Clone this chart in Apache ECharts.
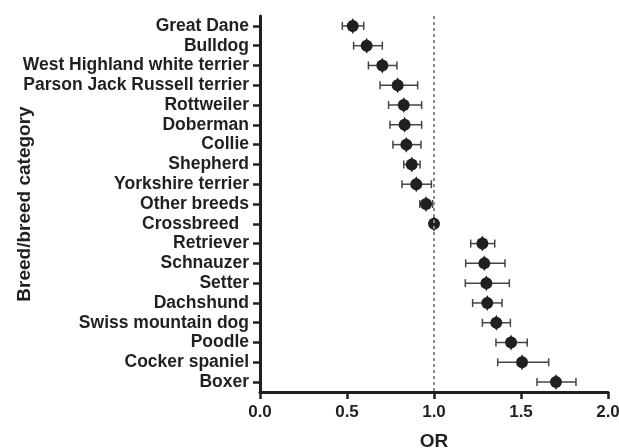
<!DOCTYPE html>
<html><head><meta charset="utf-8">
<script src="https://cdn.jsdelivr.net/npm/echarts@6/dist/echarts.min.js"></script>
<style>html,body{margin:0;padding:0;background:#fff}#c{width:619px;height:448px}</style>
</head><body><div id="c"></div>
<script>
const categories = ["Great Dane","Bulldog","West Highland white terrier","Parson Jack Russell terrier","Rottweiler","Doberman","Collie","Shepherd","Yorkshire terrier","Other breeds","Crossbreed  ","Retriever","Schnauzer","Setter","Dachshund","Swiss mountain dog","Poodle","Cocker spaniel","Boxer"];
const orValues = [0.533,0.613,0.703,0.791,0.826,0.831,0.841,0.872,0.898,0.954,1.0,1.278,1.289,1.301,1.306,1.358,1.443,1.506,1.701];
const ciLow  = [0.473,0.538,0.623,0.690,0.739,0.747,0.764,0.826,0.816,0.918,null,1.211,1.182,1.180,1.222,1.278,1.356,1.366,1.592];
const ciHigh = [0.596,0.703,0.787,0.906,0.929,0.929,0.925,0.920,0.985,0.992,null,1.349,1.408,1.433,1.391,1.439,1.536,1.659,1.816];
const xTicks = [0.0,0.5,1.0,1.5,2.0];
const refLine = 1.0;

const ink = '#231f20';
const font = {fontFamily:'Liberation Sans, Arial, sans-serif', fontWeight:'bold', color:ink};
const chart = echarts.init(document.getElementById('c'), null, {renderer:'canvas'});
const errData = categories.map((c,i)=> ciLow[i]==null ? null : [i, ciLow[i], ciHigh[i]]).filter(d=>d);
const ptData = categories.map((c,i)=>[orValues[i], c]);
chart.setOption({
  animation:false,
  grid:{left:260,right:11,top:16,bottom:56,containLabel:false,outerBoundsMode:'none'},
  xAxis:{type:'value',min:xTicks[0],max:xTicks[xTicks.length-1],interval:0.5,
    name:'OR',nameLocation:'middle',nameGap:40,nameMoveOverlap:false,
    nameTextStyle:Object.assign({fontSize:19},font),
    axisLine:{show:true,onZero:false,lineStyle:{color:ink,width:3}},
    axisTick:{show:true,length:7,lineStyle:{color:ink,width:2.5}},
    axisLabel:Object.assign({fontSize:17,margin:12,formatter:v=>v.toFixed(1)},font),
    splitLine:{show:false}},
  yAxis:{type:'category',data:categories,inverse:true,boundaryGap:true,
    name:'Breed/breed category',nameLocation:'middle',nameGap:226,nameMoveOverlap:false,
    nameTextStyle:Object.assign({fontSize:19},font),
    axisLine:{show:true,lineStyle:{color:ink,width:3}},
    axisTick:{show:true,length:7,alignWithLabel:true,lineStyle:{color:ink,width:2.5}},
    axisLabel:Object.assign({fontSize:17.5,margin:11,interval:0},font),
    splitLine:{show:false}},
  series:[
    {type:'custom',data:errData,z:2,
     renderItem:function(params,api){
       const y=api.value(0), lo=api.coord([api.value(1),y]), hi=api.coord([api.value(2),y]);
       const h=4;
       return {type:'group',children:[
         {type:'line',shape:{x1:lo[0],y1:lo[1],x2:hi[0],y2:hi[1]},style:{stroke:'#444',lineWidth:1.5}},
         {type:'line',shape:{x1:lo[0],y1:lo[1]-h,x2:lo[0],y2:lo[1]+h},style:{stroke:'#444',lineWidth:1.5}},
         {type:'line',shape:{x1:hi[0],y1:hi[1]-h,x2:hi[0],y2:hi[1]+h},style:{stroke:'#444',lineWidth:1.5}}
       ]};
     },
     encode:{x:[1,2],y:0}},
    {type:'scatter',data:ptData,symbol:'circle',symbolSize:12,z:3,
     itemStyle:{color:ink,opacity:1},
     markLine:{silent:true,symbol:['none','none'],label:{show:false},
       lineStyle:{color:'#8a8a8a',type:[3,3],width:2},
       data:[{xAxis:refLine}]}},
    {type:'scatter',data:ptData,symbol:'diamond',symbolSize:[8,16],z:3,
     itemStyle:{color:ink,opacity:1}}
  ]
});
</script></body></html>
